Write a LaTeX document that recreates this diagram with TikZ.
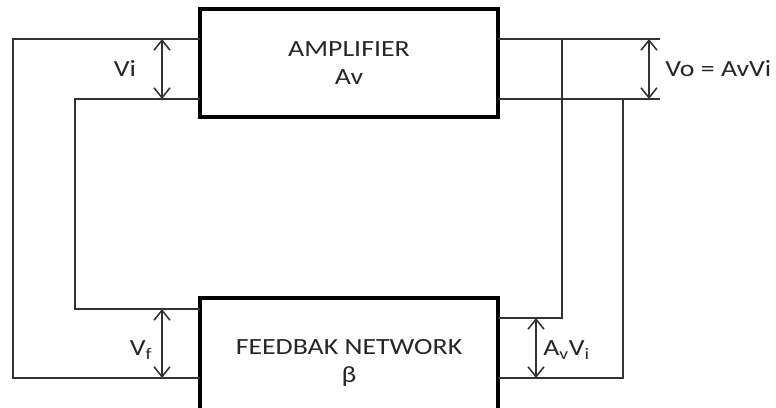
\documentclass[tikz,border=0pt]{standalone}
\usepackage{fontspec}
\setmainfont{Carlito}[FakeStretch=1.2]
\usetikzlibrary{arrows.meta}

\begin{document}
\begin{tikzpicture}[every node/.style={font=\fontsize{16.5}{19.5}\selectfont, text=black!85},
    wire/.style={line width=1.1pt, draw=black!80},
    block/.style={draw=black, line width=2.8pt, minimum width=7.45cm, align=center},
    volt/.style={wire, <->, >={Straight Barb[length=2.5mm,width=4mm]}}]
                \clip (0,0) rectangle (19.4,10.175);

                \node[block, minimum height=2.7cm] (amp) at (8.725,8.6) {AMPLIFIER\\Av};
                \node[block, minimum height=3.25cm] (fb) at (8.725,1.1) {FEEDBAK NETWORK\\β};

                % terminals
                \coordinate (in1) at (5,9.2);
                \coordinate (in2) at (5,7.7);
                \coordinate (out1) at (12.45,9.2);
                \coordinate (out2) at (12.45,7.7);
                \coordinate (fbl1) at (5,2.45);
                \coordinate (fbl2) at (5,0.725);
                \coordinate (fbr1) at (12.45,2.225);
                \coordinate (fbr2) at (12.45,0.725);
                \coordinate (vo1) at (16.5,9.2);
                \coordinate (vo2) at (16.5,7.7);

                \draw[wire] (in1) -- (0.325,9.2) |- (fbl2);
                \draw[wire] (in2) -- (1.875,7.7) |- (fbl1);
                \draw[wire] (out1) -- (vo1);
                \draw[wire] (out2) -- (vo2);
                \draw[wire] (14.05,9.2) |- (fbr1);
                \draw[wire] (15.575,7.7) |- (fbr2);

                \draw[volt] (4.05,9.2) -- (4.05,7.7);
                \draw[volt] (4.05,2.45) -- (4.05,0.725);
                \draw[volt] (16.225,9.2) -- (16.225,7.7);
                \draw[volt] (13.4,2.225) -- (13.4,0.725);

                \node (vi) at (3.125,8.45) {Vi};
                \node (vf) at (3.525,1.425) {V\textsubscript{f}};
                \node[anchor=west, inner sep=0pt] (vo) at (16.625,8.45) {Vo = AvVi};
                \node[anchor=west, inner sep=0pt] (avvi) at (13.575,1.425) {A\textsubscript{v}V\textsubscript{i}};
            \end{tikzpicture}
\end{document}
